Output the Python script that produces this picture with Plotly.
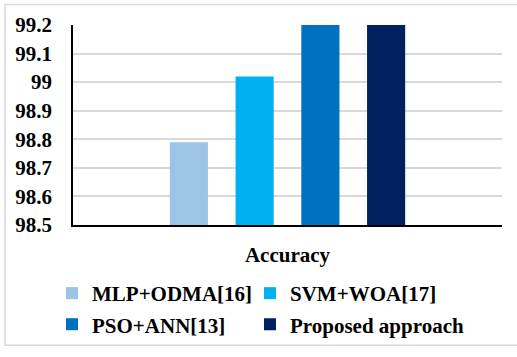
import plotly.graph_objects as go

# Accuracy comparison of the four methods
category = ["Accuracy"]
methods = ["MLP+ODMA[16]", "SVM+WOA[17]", "PSO+ANN[13]", "Proposed approach"]
accuracy = [98.79, 99.02, 99.2, 99.2]
colors = ["#9DC3E6", "#00B0F0", "#0070C0", "#002060"]
legend_ids = ["legend", "legend2", "legend3", "legend4"]
y_ticks = [98.5, 98.6, 98.7, 98.8, 98.9, 99.0, 99.1, 99.2]
y_tick_text = ["98.5", "98.6", "98.7", "98.8", "98.9", "99", "99.1", "99.2"]

FONT = "'Times New Roman', 'Liberation Serif', Tinos, serif"
LABEL_FONT = dict(family=FONT, size=21, color="black", weight="bold")

fig = go.Figure()
for name, val, col, leg in zip(methods, accuracy, colors, legend_ids):
    fig.add_trace(go.Bar(x=category, y=[val], name=name, legend=leg,
                         marker=dict(color=col, line=dict(width=0))))

# 2x2 legend grid: one legend per entry
legend_common = dict(
    orientation="v",
    xanchor="left",
    yanchor="top",
    font=LABEL_FONT,
    bgcolor="rgba(0,0,0,0)",
)
col_x = [(52 - 73) / 429, (250 - 73) / 429]
row_y = [-0.240, -0.396]

fig.update_layout(
    width=517,
    height=357,
    margin=dict(l=73, r=15, t=25, b=126),
    paper_bgcolor="white",
    plot_bgcolor="white",
    barmode="group",
    bargap=0.387,
    bargroupgap=0.42,
    font=dict(family=FONT, size=21, color="black"),
    showlegend=True,
    legend=dict(legend_common, x=col_x[0], y=row_y[0]),
    legend2=dict(legend_common, x=col_x[1], y=row_y[0]),
    legend3=dict(legend_common, x=col_x[0], y=row_y[1]),
    legend4=dict(legend_common, x=col_x[1], y=row_y[1]),
    xaxis=dict(
        showline=True,
        linecolor="black",
        linewidth=1.5,
        showgrid=False,
        ticks="",
        tickfont=LABEL_FONT,
        ticklabelstandoff=10,
    ),
    yaxis=dict(
        range=[98.5, 99.2],
        tickvals=y_ticks,
        ticktext=y_tick_text,
        showline=True,
        linecolor="black",
        linewidth=1.5,
        showgrid=True,
        gridcolor="#D9D9D9",
        gridwidth=1.5,
        zeroline=False,
        ticks="",
        tickfont=LABEL_FONT,
        ticklabelstandoff=15,
    ),
)

# light outer frame around the chart
fig.add_shape(
    type="rect",
    xref="paper", yref="paper",
    x0=(5 - 73) / 429, x1=(525 - 73) / 429,
    y0=(230.5 - 354) / 205.5, y1=(230.5 - 4) / 205.5,
    line=dict(color="#D9D9D9", width=1.5),
    fillcolor="rgba(0,0,0,0)",
    layer="below",
)

fig.write_html("out.html")
